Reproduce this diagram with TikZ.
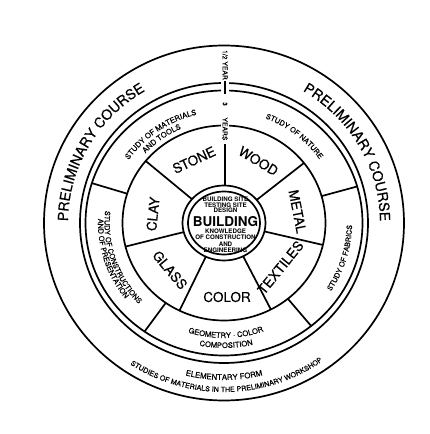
\documentclass[tikz,border=0pt]{standalone}
\usepackage{fontspec}
\setmainfont{TeX Gyre Heros}
\newfontfamily\medfont{TeX Gyre Heros}[FakeBold=0.5]
\usetikzlibrary{decorations.text}
\newcommand{\fs}[1]{\medfont\fontsize{#1}{#1}\selectfont}
\newcommand{\ringtext}[6]{%
  \path[decorate,decoration={text along path,text align=center,text={|\fs{#5}|#6}}]
    ({#1*cos(#3)},{#2*sin(#3)}) arc[start angle=#3,end angle=#4,x radius=#1pt,y radius=#2pt];}
\tikzset{
  ring/.style={line width=1.7pt},
  seglabel/.style={font=\fs{13.5}, inner sep=0pt},
  core/.style={font=\bfseries\fontsize{6.2}{6.2}\selectfont, inner sep=0pt},
  yeartext/.style={font=\fs{6.8}, fill=white, inner xsep=3pt, inner ysep=1.5pt, rotate=-90},
}
\begin{document}
\begin{tikzpicture}[x=1pt,y=1pt]
\useasboundingbox[fill=white] (-224,-211) rectangle (206,223);
% rings
\draw[ring] (0,0) ellipse [x radius=180pt, y radius=177.5pt];
\draw[ring] (0,0) ellipse [x radius=144pt, y radius=140pt];
\draw[ring] (0,0) ellipse [x radius=138.5pt, y radius=132.5pt];
\draw[ring] (0,0) ellipse [x radius=101.5pt, y radius=97.5pt];
\draw[ring] (0,0) ellipse [x radius=41.5pt, y radius=37.5pt];
\draw[ring] (0,0) ellipse [x radius=36pt, y radius=31.5pt];
% dividers of the seven workshops
\foreach \a in {38,-13,-62.5,-116,194,140.5}
  \draw[ring] ({41.5*cos(\a)},{37.5*sin(\a)}) -- ({101.5*cos(\a)},{97.5*sin(\a)});
% dividers of the studies ring
\foreach \a in {162.5,16,-125,-51}
  \draw[ring] ({101.5*cos(\a)},{97.5*sin(\a)}) -- ({138.5*cos(\a)},{132.5*sin(\a)});
% vertical column
\draw[ring] (1,94) -- (1,37.5);
\node[yeartext] (half) at (1,158) {1/2 YEAR};
\node[fill=white, inner sep=0pt, minimum width=8pt, minimum height=13pt] (barbg) at (1,135.5) {};
\draw[line width=1.9pt] (barbg.north) -- (barbg.south);
\node[yeartext] (three) at (1,119) {3};
\node[yeartext] (years) at (1,94) {YEARS};
% workshops
\node[seglabel, rotate=25] (stone) at (-30,63) {STONE};
\node[seglabel, rotate=-31] (wood) at (34.5,62) {WOOD};
\node[seglabel, rotate=-79] (metal) at (73.5,11.5) {METAL};
\node[seglabel, rotate=51] (textiles) at (56.5,-44.5) {TEXTILES};
\node[seglabel] (color) at (3,-74) {COLOR};
\node[seglabel, rotate=-50] (glass) at (-54,-47) {GLASS};
\node[seglabel, rotate=84] (clay) at (-71,9) {CLAY};
% core
\node[core] (c1) at (1.5,23.5) {BUILDING SITE};
\node[core] (c2) at (1.5,18) {TESTING SITE};
\node[core] (c3) at (1.5,12.5) {DESIGN};
\node[font=\bfseries\fontsize{13.5}{14}\selectfont, inner sep=0pt] (bld) at (1.5,1) {BUILDING};
\node[core] (c4) at (1.5,-8) {KNOWLEDGE};
\node[core] (c5) at (1.5,-14.5) {OF CONSTRUCTION};
\node[core] (c6) at (1.5,-21) {AND};
\node[core] (c7) at (1.5,-27.5) {ENGINEERING};
% curved texts
\ringtext{156}{153}{200}{100}{14}{PRELIMINARY COURSE}
\ringtext{156}{153}{80}{-20}{14}{PRELIMINARY COURSE}
\ringtext{115.5}{111.5}{170}{80}{7.6}{STUDY OF MATERIALS}
\ringtext{106.5}{103}{171}{81}{7.6}{AND TOOLS}
\ringtext{116}{112}{96.5}{6.5}{7.3}{STUDY OF NATURE}
\ringtext{119.5}{115.5}{154}{244}{7.3}{STUDY OF CONSTRUCTIONS}
\ringtext{126}{122}{153}{243}{7.3}{AND OF PRESENTATION}
\ringtext{128}{124}{-62}{28}{7.3}{STUDY OF FABRICS}
\ringtext{118}{115}{-134}{-44}{7.6}{GEOMETRY · COLOR}
\ringtext{128}{125}{-134}{-44}{7.6}{COMPOSITION}
\ringtext{160}{157}{-135}{-45}{7.8}{ELEMENTARY FORM}
\ringtext{171}{169}{-170}{-8}{7.1}{STUDIES OF MATERIALS IN THE PRELIMINARY WORKSHOP}
\end{tikzpicture}
\end{document}
